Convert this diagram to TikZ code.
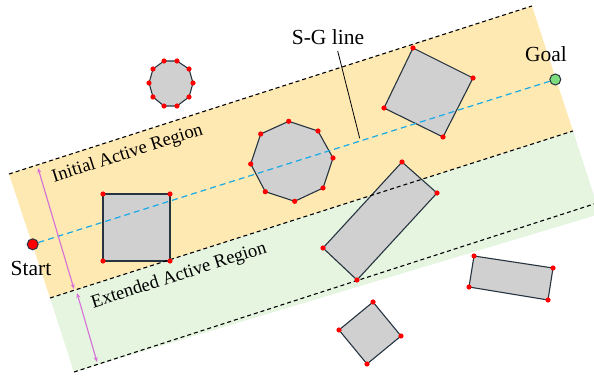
\documentclass[tikz,border=0pt]{standalone}
\usepackage{fontspec}
\setmainfont{Liberation Serif}
\usetikzlibrary{arrows.meta}
\definecolor{orangefill}{RGB}{255,233,178}
\definecolor{greenfill}{RGB}{229,245,224}
\definecolor{obstfill}{RGB}{208,208,208}
\definecolor{obstline}{RGB}{38,52,64}
\definecolor{sgcyan}{RGB}{24,170,230}
\definecolor{pinkarrow}{RGB}{215,110,215}
\definecolor{goalgreen}{RGB}{125,220,125}
\begin{document}
\begin{tikzpicture}[x=1pt,y=-1pt,
  obst/.style={fill=obstfill,draw=obstline,line width=1.1pt,line join=round},
  vdot/.style={fill=red},
  bandline/.style={line width=1.1pt,dash pattern=on 4pt off 3pt},
  sgline/.style={draw=sgcyan,line width=1.2pt,dash pattern=on 6pt off 4pt},
  dimarrow/.style={draw=pinkarrow,line width=1.1pt,{Stealth[length=5pt,width=4pt]}-{Stealth[length=5pt,width=4pt]}},
  lbl/.style={font=\fontsize{21.5}{25}\selectfont,inner sep=0pt},
  reglbl/.style={font=\fontsize{18.6}{22}\selectfont,inner sep=0pt,rotate=17.8,anchor=base},
  endpt/.style={circle,draw=obstline,line width=1pt,minimum size=11pt,inner sep=0pt},
  ]
\useasboundingbox (0,0) rectangle (594,379);
\begin{scope}
\clip (0,0) rectangle (594,379);
% regions
\fill[orangefill] (9,174) -- (532,6) -- (573,131) -- (50,298) -- cycle;
\fill[greenfill] (50,298) -- (573,131) -- (600,214) -- (74,372) -- cycle;
\end{scope}

% obstacles
\draw[obst] (164,61) -- (177,61) -- (189,69) -- (193,83) -- (189,97) -- (177,106) -- (164,106) -- (153,97) -- (149,83) -- (153,69) -- cycle;
\draw[obst] (288.7,121.3) -- (318,131) -- (333,158) -- (323,188) -- (294.7,201.3) -- (265.3,191.7) -- (250.7,164) -- (260.7,134) -- cycle;
\draw[obst] (103,194) -- (170,194) -- (170,261) -- (103,261) -- cycle;
\draw[obst] (413,48) -- (473,78) -- (443,137) -- (384,108) -- cycle;
\draw[obst] (402,162) -- (437,193) -- (357,280) -- (323,248) -- cycle;
\draw[obst] (474,256) -- (553,268) -- (548,300) -- (469,287) -- cycle;
\draw[obst] (373,302) -- (401,336) -- (367,364) -- (339,330) -- cycle;

% band boundaries
\draw[bandline] (9,174) -- (532,6);
\draw[bandline] (50,298) -- (573,131);
\draw[bandline] (74,372) -- (594,204);

% start, goal, S-G line
\node[endpt,fill=red] (start) at (32.7,244.3) {};
\node[endpt,fill=goalgreen] (goal) at (555.3,79.5) {};
\draw[sgline] (start) -- (goal);

% vertex dots
\foreach \p in {(164,61),(177,61),(189,69),(193,83),(189,97),(177,106),(164,106),(153,97),(149,83),(153,69),
  (288.7,121.3),(318,131),(333,158),(323,188),(294.7,201.3),(265.3,191.7),(250.7,164),(260.7,134),
  (103,194),(170,194),(170,261),(103,261),
  (413,48),(473,78),(443,137),(384,108),
  (402,162),(437,193),(357,280),(323,248),
  (474,256),(553,268),(548,300),(469,287),
  (373,302),(401,336),(367,364),(339,330)}
  \fill[vdot] \p circle (2.6);

% dimension arrows
\coordinate (a1) at (38,168);
\coordinate (a2) at (74,289);
\coordinate (b1) at (77,293);
\coordinate (b2) at (97,362);
\draw[dimarrow] (a1) -- (a2);
\draw[dimarrow] (b1) -- (b2);

% labels
\node[lbl] (startlbl) at (31,268.5) {Start};
\node[lbl] (goallbl) at (546,54) {Goal};
\node[lbl] (sglbl) at (328,37.5) {S-G line};
\coordinate (sgA) at (337.7,51);
\coordinate (sgB) at (359.7,138.3);
\draw[line width=0.8pt] (sgA) -- (sgB);
\node[reglbl] (initlbl) at (129,158.3) {Initial Active Region};
\node[reglbl] (extlbl) at (180.3,280.3) {Extended Active Region};
\end{tikzpicture}
\end{document}
